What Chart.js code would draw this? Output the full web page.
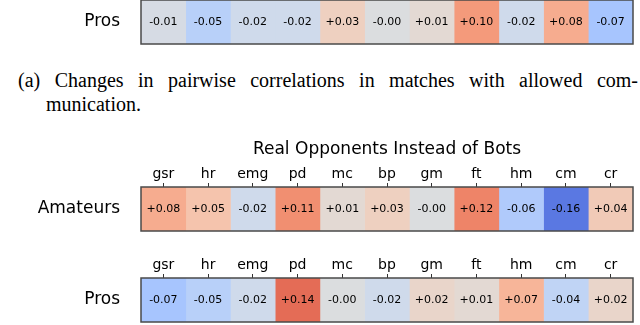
<!DOCTYPE html>
<html>
<head>
<meta charset="utf-8">
<script src="https://cdn.jsdelivr.net/npm/chart.js@4"></script>
<style>
    body { margin: 0; width: 640px; height: 325px; overflow: hidden; background: #fff; position: relative; }
    canvas { position: absolute; left: 0; }
    .cap { position: absolute; font-family: "Liberation Serif", serif; font-size: 20px; line-height: 24px; color: #000; white-space: nowrap; }
    #cap1 { left: 18px; top: 68px; width: 620px; text-align: justify; text-align-last: justify; white-space: normal; }
    #cap2 { left: 46px; top: 92px; }
</style>
</head>
<body>
<canvas id="topRow" width="640" height="88" style="top:-40px"></canvas>
<div class="cap" id="cap1">(a) Changes in pairwise correlations in matches with allowed com-</div>
<div class="cap" id="cap2">munication.</div>
<canvas id="amateursRow" width="640" height="105" style="top:130px"></canvas>
<canvas id="prosRow" width="640" height="85" style="top:240px"></canvas>
<script>
const features = ['gsr', 'hr', 'emg', 'pd', 'mc', 'bp', 'gm', 'ft', 'hm', 'cm', 'cr'];

// (a) allowed communication, Pros row (only the bottom of it is visible)
const prosComm = [-0.01, -0.05, -0.02, -0.02, 0.03, -0.003, 0.01, 0.10, -0.02, 0.08, -0.07];

// (b) real opponents instead of bots
const amateursReal = [0.08, 0.05, -0.02, 0.11, 0.01, 0.03, -0.003, 0.12, -0.06, -0.16, 0.04];
const prosReal = [-0.07, -0.05, -0.02, 0.14, -0.003, -0.02, 0.02, 0.01, 0.07, -0.04, 0.02];

const colorMin = -0.2;
const colorMax = 0.2;

// coolwarm (Moreland) stops
const coolwarmStops = [
    [59, 76, 192], [77, 104, 215], [98, 130, 234], [119, 154, 247],
    [141, 176, 254], [163, 194, 255], [184, 208, 249], [204, 217, 238],
    [221, 221, 221], [236, 211, 197], [245, 196, 173], [247, 177, 148],
    [244, 154, 123], [236, 127, 99], [222, 96, 77], [203, 62, 56], [180, 4, 38],
];

function coolwarm(v) {
    let t = (v - colorMin) / (colorMax - colorMin);
    t = Math.max(0, Math.min(1, t)) * (coolwarmStops.length - 1);
    const i = Math.min(Math.floor(t), coolwarmStops.length - 2);
    const f = t - i;
    const a = coolwarmStops[i];
    const b = coolwarmStops[i + 1];
    const c = a.map((x, k) => Math.round(x + (b[k] - x) * f));
    return `rgb(${c[0]}, ${c[1]}, ${c[2]})`;
}

const fmt = (v) => (v < 0 ? '-' : '+') + Math.abs(v).toFixed(2);

const cellText = {
    id: 'cellText',
    afterDatasetsDraw(chart) {
        const { ctx } = chart;
        ctx.save();
        ctx.font = '11px "DejaVu Sans"';
        ctx.fillStyle = '#000';
        ctx.textAlign = 'center';
        ctx.textBaseline = 'middle';
        chart.data.datasets.forEach((ds, i) => {
            const bar = chart.getDatasetMeta(i).data[0];
            const { x, y, base } = bar.getProps(['x', 'y', 'base'], true);
            ctx.fillText(fmt(ds.value), (x + base) / 2, y + 0.5);
        });
        ctx.restore();
    },
};

const frame = {
    id: 'frame',
    afterDraw(chart) {
        const { ctx, chartArea: a } = chart;
        ctx.save();
        ctx.strokeStyle = '#4a4a4a';
        ctx.lineWidth = 1.5;
        ctx.strokeRect(a.left, a.top, a.right - a.left, a.bottom - a.top);
        ctx.restore();
    },
};

function heatRow(id, rowLabel, values, xHeight, padBottom, title) {
    const ctx = document.getElementById(id).getContext('2d');
    return new Chart(ctx, {
        type: 'bar',
        data: {
            labels: [rowLabel],
            datasets: features.map((f, i) => ({
                label: f,
                data: [1],
                value: values[i],
                backgroundColor: coolwarm(values[i]),
                borderWidth: 0,
                barPercentage: 1,
                categoryPercentage: 1,
            })),
        },
        options: {
            indexAxis: 'y',
            responsive: false,
            animation: false,
            devicePixelRatio: 1,
            layout: { padding: { top: 0, right: 7, bottom: padBottom, left: 0 } },
            plugins: {
                legend: { display: false },
                tooltip: { enabled: false },
                title: {
                    display: !!title,
                    text: title || '',
                    fullSize: false,
                    color: '#000',
                    font: { family: 'DejaVu Sans', size: 17, weight: 'normal' },
                    padding: { top: 9, bottom: 0 },
                },
            },
            scales: {
                x: {
                    stacked: true,
                    position: 'top',
                    min: 0,
                    max: features.length,
                    afterBuildTicks: (axis) => {
                        axis.ticks = features.map((f, i) => ({ value: i + 0.5 }));
                    },
                    afterFit: (axis) => {
                        axis.height = xHeight;
                        axis.paddingLeft = 0;
                        axis.paddingRight = 0;
                    },
                    ticks: {
                        callback: (v, i) => features[i],
                        color: '#000',
                        font: { family: 'DejaVu Sans', size: 14 },
                        padding: 0,
                        maxRotation: 0,
                        autoSkip: false,
                    },
                    grid: { drawOnChartArea: false, tickLength: 4, color: '#333' },
                    border: { display: false },
                },
                y: {
                    stacked: true,
                    afterFit: (axis) => {
                        axis.width = 141;
                        axis.paddingTop = 0;
                        axis.paddingBottom = 0;
                    },
                    ticks: {
                        color: '#000',
                        font: { family: 'DejaVu Sans', size: 17 },
                        padding: 13,
                    },
                    grid: { display: false },
                    border: { display: false },
                },
            },
        },
        plugins: [cellText, frame],
    });
}

heatRow('topRow', 'Pros', prosComm, 40, 4);
heatRow('amateursRow', 'Amateurs', amateursReal, 27.6, 4, 'Real Opponents Instead of Bots');
heatRow('prosRow', 'Pros', prosReal, 38, 3);
</script>
</body>
</html>
